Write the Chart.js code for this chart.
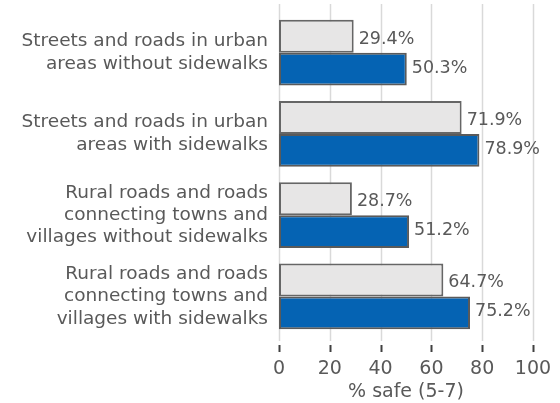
<!DOCTYPE html>
<html>
<head>
<meta charset="utf-8">
<script src="https://cdn.jsdelivr.net/npm/chart.js@4"></script>
<style>
  html, body { margin: 0; padding: 0; background: #fff; }
  #wrap { width: 560px; height: 403px; }
</style>
</head>
<body>
<div id="wrap"><canvas id="chart"></canvas></div>
<script>
// categorias (rótulos em várias linhas)
const categories = [
  ['Streets and roads in urban', 'areas without sidewalks'],
  ['Streets and roads in urban', 'areas with sidewalks'],
  ['Rural roads and roads', 'connecting towns and', 'villages without sidewalks'],
  ['Rural roads and roads', 'connecting towns and', 'villages with sidewalks']
];
const grayValues = [29.4, 71.9, 28.7, 64.7];
const blueValues = [50.3, 78.9, 51.2, 75.2];
const xTicks = [0, 20, 40, 60, 80, 100];
const xTitle = '% safe (5-7)';

const textColor = '#595959';
const fontFamily = '"DejaVu Sans", Verdana, sans-serif';

// linhas de grade e marcas de escala desenhadas à mão (com espaço entre elas)
const gridPlugin = {
  id: 'gridPlugin',
  beforeDatasetsDraw(chart) {
    const { ctx, chartArea, scales } = chart;
    ctx.save();
    xTicks.forEach(v => {
      const x = Math.round(scales.x.getPixelForValue(v)) + 0.5;
      ctx.strokeStyle = '#d9d9d9';
      ctx.lineWidth = 1.5;
      ctx.beginPath();
      ctx.moveTo(x, chartArea.top - 8);
      ctx.lineTo(x, chartArea.bottom + 4);
      ctx.stroke();
      ctx.strokeStyle = '#404040';
      ctx.lineWidth = 2;
      ctx.beginPath();
      ctx.moveTo(x, chartArea.bottom + 8);
      ctx.lineTo(x, chartArea.bottom + 15);
      ctx.stroke();
    });
    ctx.restore();
  }
};

// rótulos de valor à direita de cada barra
const valueLabels = {
  id: 'valueLabels',
  afterDatasetsDraw(chart) {
    const { ctx } = chart;
    ctx.save();
    ctx.font = '17.5px ' + fontFamily;
    ctx.fillStyle = textColor;
    ctx.textAlign = 'left';
    ctx.textBaseline = 'middle';
    chart.data.datasets.forEach((ds, i) => {
      const dy = i === 0 ? 3 : -1;
      chart.getDatasetMeta(i).data.forEach((bar, j) => {
        ctx.fillText(ds.data[j].toFixed(1) + '%', bar.x + 5, bar.y + dy);
      });
    });
    ctx.restore();
  }
};

new Chart(document.getElementById('chart').getContext('2d'), {
  type: 'bar',
  data: {
    labels: categories,
    datasets: [
      {
        data: grayValues,
        backgroundColor: '#e7e6e6',
        borderColor: '#666666',
        borderWidth: 2,
        borderSkipped: false
      },
      {
        data: blueValues,
        backgroundColor: '#0563b3',
        borderColor: '#5a5a5a',
        borderWidth: 2,
        borderSkipped: false
      }
    ]
  },
  options: {
    indexAxis: 'y',
    responsive: true,
    maintainAspectRatio: false,
    animation: false,
    categoryPercentage: 0.81,
    barPercentage: 1,
    layout: { padding: { top: 12, right: 27, bottom: 0, left: 0 } },
    plugins: {
      legend: { display: false },
      tooltip: { enabled: false }
    },
    scales: {
      x: {
        min: 0,
        max: 100,
        afterBuildTicks: s => { s.ticks = xTicks.map(v => ({ value: v })); },
        afterFit: s => { s.height = 66; s.paddingLeft = 0; s.paddingRight = 0; },
        grid: { display: false, drawTicks: false },
        border: { display: false },
        ticks: {
          color: textColor,
          font: { family: fontFamily, size: 19 },
          padding: 21,
          maxRotation: 0
        },
        title: {
          display: true,
          text: xTitle,
          color: textColor,
          font: { family: fontFamily, size: 19 },
          padding: { top: 0, bottom: 0 }
        }
      },
      y: {
        afterFit: s => { s.width = 279; s.paddingTop = 0; s.paddingBottom = 0; },
        grid: { display: false, drawTicks: false },
        border: { display: false },
        ticks: {
          color: textColor,
          font: { family: fontFamily, size: 18.5, lineHeight: 1.21 },
          padding: 11
        }
      }
    }
  },
  plugins: [gridPlugin, valueLabels]
});
</script>
</body>
</html>
